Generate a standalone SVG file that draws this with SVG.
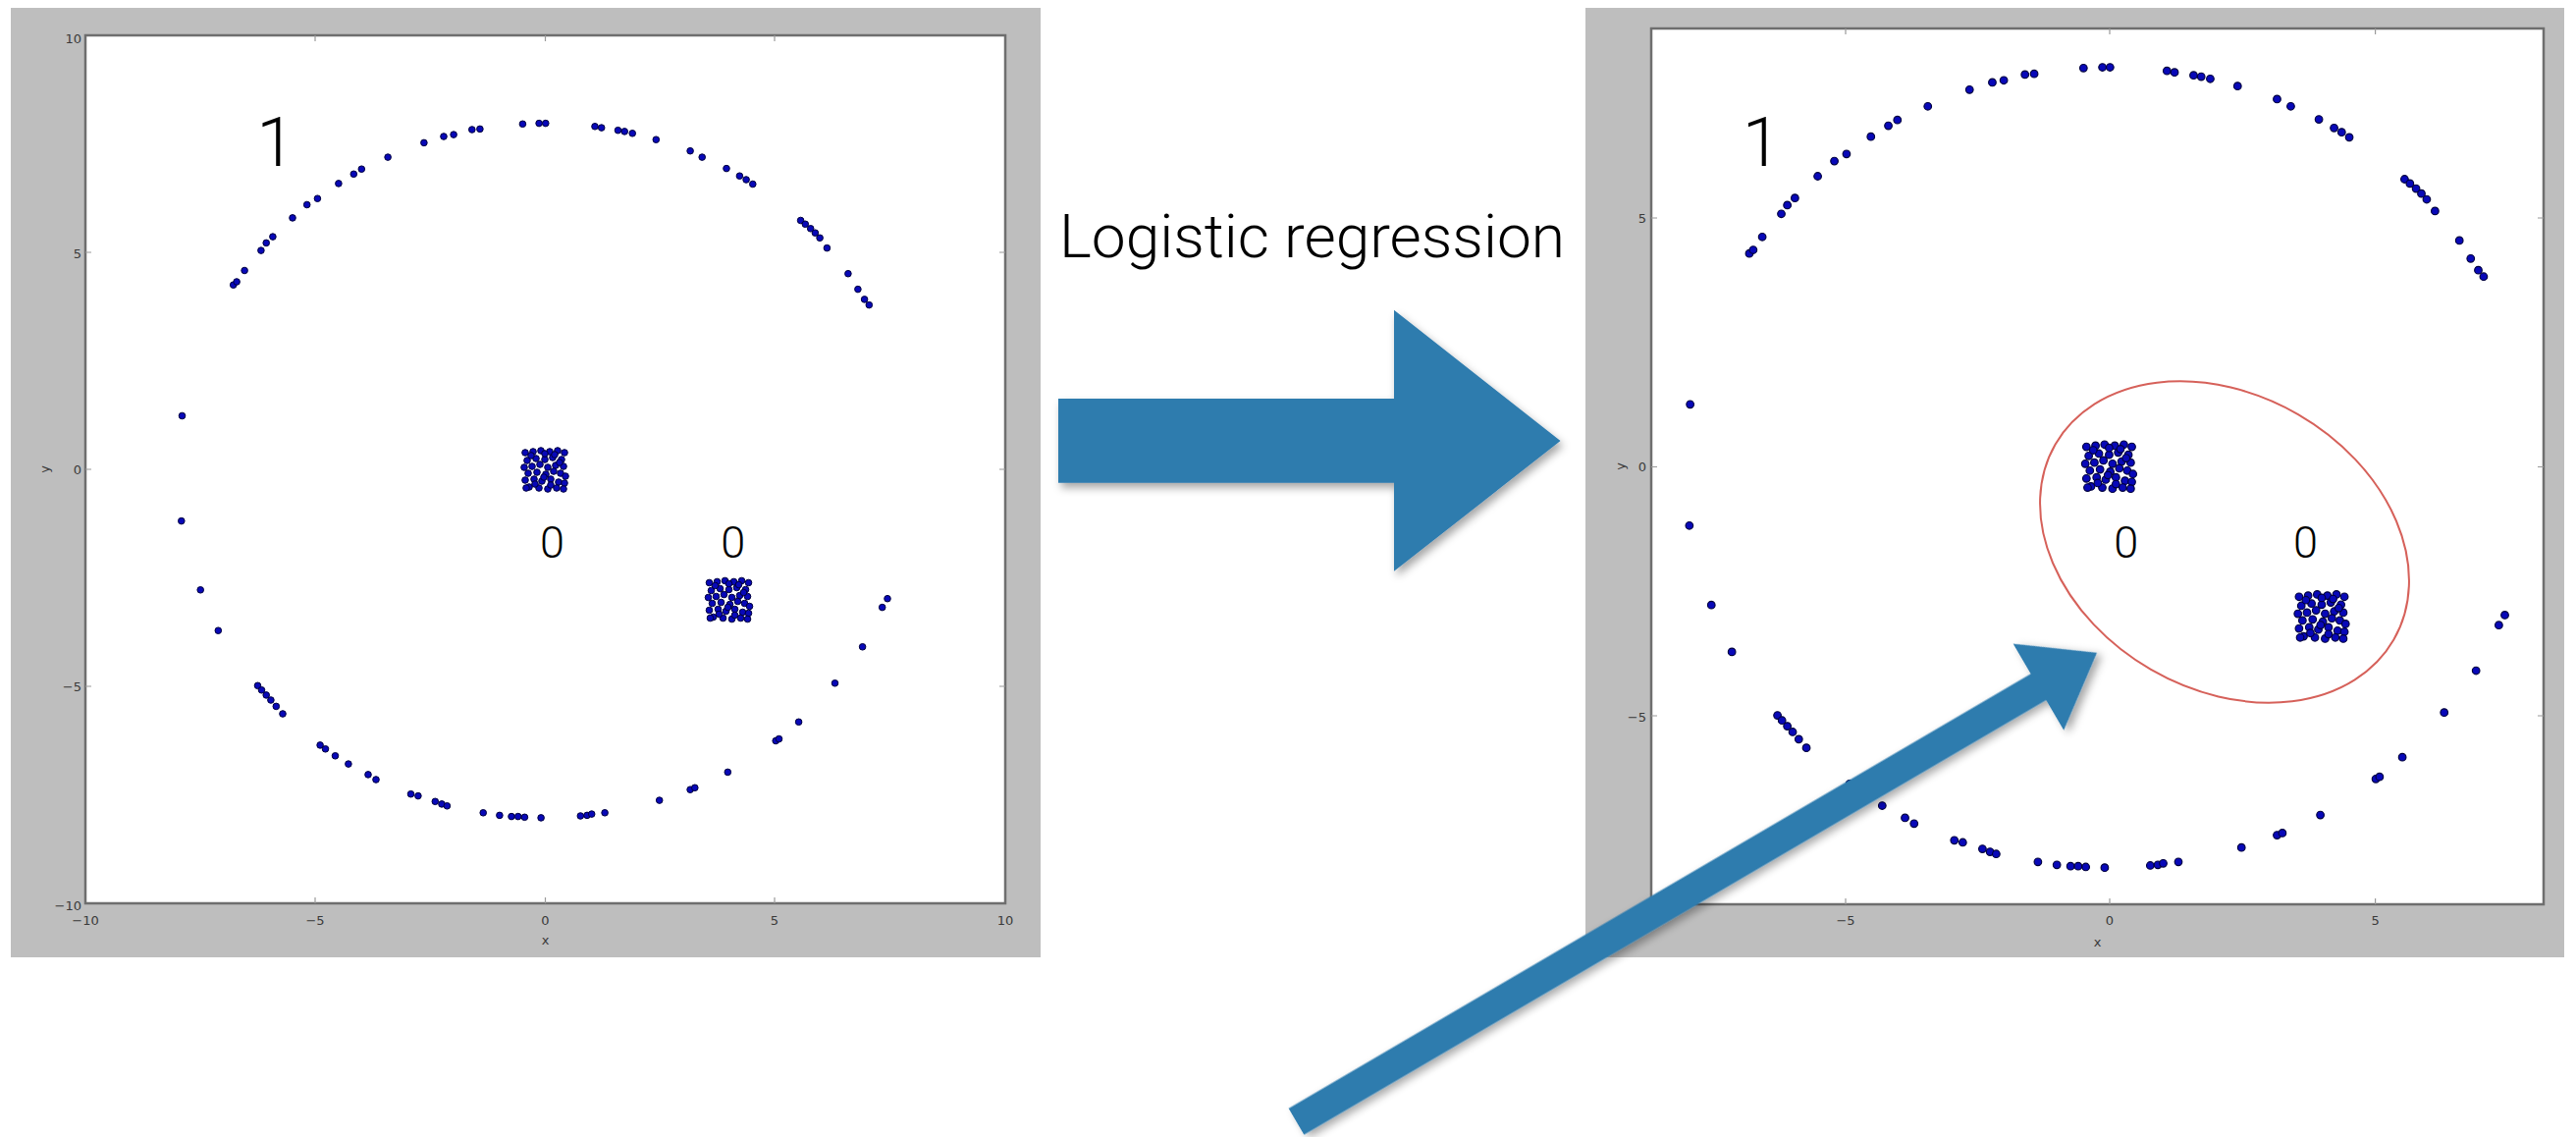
<svg xmlns="http://www.w3.org/2000/svg" xmlns:xlink="http://www.w3.org/1999/xlink" width="2624" height="1158" viewBox="0 0 2624 1158">
<style>
.bg{fill:#bebebe}
.plot{fill:#fff;stroke:#6e6e6e;stroke-width:2.5}
.tick{stroke:#9a9a9a;stroke-width:1.2}
.tl{font-family:"DejaVu Sans",sans-serif;font-size:13px;fill:#3a3a3a}
.big{font-family:Roboto,"Liberation Sans",sans-serif;font-weight:300;fill:#000}
.d{fill:#0808b8;stroke:#00003c;stroke-width:1}
.arrow{fill:#2e7bae}
</style>
<defs>
<filter id="sh" x="-10%" y="-20%" width="130%" height="150%">
<feDropShadow dx="3" dy="5" stdDeviation="4" flood-color="#000" flood-opacity="0.35"/>
</filter>
<g id="c">
<circle class="d" cx="-20" cy="-18" r="3.3"/><circle class="d" cx="-12" cy="-19" r="3.3"/><circle class="d" cx="-4" cy="-20" r="3.3"/><circle class="d" cx="5" cy="-19" r="3.3"/><circle class="d" cx="13" cy="-20" r="3.3"/><circle class="d" cx="20" cy="-18" r="3.3"/>
<circle class="d" cx="-18" cy="-10" r="3.3"/><circle class="d" cx="-9" cy="-12" r="3.3"/><circle class="d" cx="0" cy="-11" r="3.3"/><circle class="d" cx="8" cy="-13" r="3.3"/><circle class="d" cx="17" cy="-11" r="3.3"/>
<circle class="d" cx="-21" cy="-3" r="3.3"/><circle class="d" cx="-13" cy="-4" r="3.3"/><circle class="d" cx="-5" cy="-6" r="3.3"/><circle class="d" cx="3" cy="-3" r="3.3"/><circle class="d" cx="11" cy="-5" r="3.3"/><circle class="d" cx="19" cy="-4" r="3.3"/>
<circle class="d" cx="-17" cy="3" r="3.3"/><circle class="d" cx="-8" cy="2" r="3.3"/><circle class="d" cx="1" cy="4" r="3.3"/><circle class="d" cx="9" cy="1" r="3.3"/><circle class="d" cx="16" cy="3" r="3.3"/><circle class="d" cx="21" cy="6" r="3.3"/>
<circle class="d" cx="-20" cy="10" r="3.3"/><circle class="d" cx="-11" cy="9" r="3.3"/><circle class="d" cx="-3" cy="11" r="3.3"/><circle class="d" cx="6" cy="9" r="3.3"/><circle class="d" cx="14" cy="12" r="3.3"/><circle class="d" cx="20" cy="13" r="3.3"/>
<circle class="d" cx="-16" cy="17" r="3.3"/><circle class="d" cx="-6" cy="18" r="3.3"/><circle class="d" cx="3" cy="19" r="3.3"/><circle class="d" cx="12" cy="18" r="3.3"/><circle class="d" cx="19" cy="19" r="3.3"/>
<circle class="d" cx="-14" cy="-15" r="3.3"/><circle class="d" cx="10" cy="-16" r="3.3"/><circle class="d" cx="-1" cy="7" r="3.3"/><circle class="d" cx="-10" cy="14" r="3.3"/><circle class="d" cx="15" cy="-8" r="3.3"/><circle class="d" cx="6" cy="15" r="3.3"/><circle class="d" cx="-19" cy="18" r="3.3"/><circle class="d" cx="0" cy="-17" r="3.3"/>
</g>
<g id="dots">
<circle class="d" cx="237.7" cy="290.2" r="3.3"/><circle class="d" cx="241.1" cy="287" r="3.3"/><circle class="d" cx="249.1" cy="275.5" r="3.3"/><circle class="d" cx="265.9" cy="255.1" r="3.3"/><circle class="d" cx="271.2" cy="247.4" r="3.3"/><circle class="d" cx="277.9" cy="241.1" r="3.3"/><circle class="d" cx="298" cy="221.9" r="3.3"/><circle class="d" cx="312.7" cy="208.5" r="3.3"/><circle class="d" cx="323.4" cy="202.2" r="3.3"/><circle class="d" cx="344.9" cy="186.9" r="3.3"/><circle class="d" cx="360.3" cy="177.3" r="3.3"/><circle class="d" cx="368.3" cy="172.2" r="3.3"/><circle class="d" cx="395.1" cy="160.1" r="3.3"/><circle class="d" cx="431.9" cy="145.4" r="3.3"/><circle class="d" cx="452" cy="139" r="3.3"/><circle class="d" cx="462.1" cy="137.1" r="3.3"/><circle class="d" cx="480.8" cy="132" r="3.3"/><circle class="d" cx="488.9" cy="131.4" r="3.3"/><circle class="d" cx="532.4" cy="126.3" r="3.3"/><circle class="d" cx="549.1" cy="125.6" r="3.3"/><circle class="d" cx="555.8" cy="125.6" r="3.3"/><circle class="d" cx="606" cy="128.8" r="3.3"/><circle class="d" cx="612.7" cy="130.1" r="3.3"/><circle class="d" cx="629.5" cy="132.7" r="3.3"/><circle class="d" cx="636.2" cy="133.9" r="3.3"/><circle class="d" cx="644.2" cy="135.8" r="3.3"/><circle class="d" cx="668.3" cy="142.2" r="3.3"/><circle class="d" cx="703.1" cy="153.7" r="3.3"/><circle class="d" cx="715.2" cy="160.1" r="3.3"/><circle class="d" cx="740" cy="171.6" r="3.3"/><circle class="d" cx="753.4" cy="179.2" r="3.3"/><circle class="d" cx="760.1" cy="183" r="3.3"/><circle class="d" cx="766.8" cy="187.5" r="3.3"/><circle class="d" cx="815.6" cy="224.5" r="3.3"/><circle class="d" cx="820.3" cy="228.3" r="3.3"/><circle class="d" cx="825.7" cy="232.8" r="3.3"/><circle class="d" cx="830.4" cy="237.2" r="3.3"/><circle class="d" cx="835.1" cy="242.3" r="3.3"/><circle class="d" cx="842.4" cy="252.6" r="3.3"/><circle class="d" cx="863.9" cy="278.7" r="3.3"/><circle class="d" cx="873.9" cy="294.6" r="3.3"/><circle class="d" cx="880.6" cy="304.9" r="3.3"/><circle class="d" cx="885.3" cy="310.6" r="3.3"/>
<circle class="d" cx="185.5" cy="423.5" r="3.3"/><circle class="d" cx="184.8" cy="530.6" r="3.3"/><circle class="d" cx="204.2" cy="600.8" r="3.3"/><circle class="d" cx="222.3" cy="642.2" r="3.3"/>
<circle class="d" cx="262.5" cy="698.3" r="3.3"/><circle class="d" cx="266.5" cy="702.8" r="3.3"/><circle class="d" cx="271.2" cy="707.9" r="3.3"/><circle class="d" cx="275.9" cy="713" r="3.3"/><circle class="d" cx="281.3" cy="719.4" r="3.3"/><circle class="d" cx="288" cy="727" r="3.3"/><circle class="d" cx="326.1" cy="758.9" r="3.3"/><circle class="d" cx="331.5" cy="762.8" r="3.3"/><circle class="d" cx="341.5" cy="769.8" r="3.3"/><circle class="d" cx="354.9" cy="778.1" r="3.3"/><circle class="d" cx="375" cy="788.9" r="3.3"/><circle class="d" cx="383" cy="794" r="3.3"/><circle class="d" cx="418.5" cy="808.7" r="3.3"/><circle class="d" cx="425.9" cy="810.6" r="3.3"/><circle class="d" cx="443.3" cy="816.3" r="3.3"/><circle class="d" cx="450" cy="818.9" r="3.3"/><circle class="d" cx="455.4" cy="820.8" r="3.3"/><circle class="d" cx="492.2" cy="827.8" r="3.3"/><circle class="d" cx="508.9" cy="830.4" r="3.3"/><circle class="d" cx="521" cy="831.6" r="3.3"/><circle class="d" cx="527.7" cy="831.6" r="3.3"/><circle class="d" cx="534.4" cy="832.3" r="3.3"/><circle class="d" cx="551.1" cy="832.9" r="3.3"/><circle class="d" cx="591.3" cy="831" r="3.3"/><circle class="d" cx="598" cy="830.4" r="3.3"/><circle class="d" cx="602.7" cy="829.1" r="3.3"/><circle class="d" cx="616.1" cy="827.8" r="3.3"/><circle class="d" cx="671.7" cy="815.1" r="3.3"/><circle class="d" cx="703.1" cy="804.2" r="3.3"/><circle class="d" cx="707.8" cy="802.3" r="3.3"/><circle class="d" cx="741.3" cy="786.4" r="3.3"/><circle class="d" cx="790.2" cy="754.5" r="3.3"/><circle class="d" cx="793.5" cy="752.6" r="3.3"/><circle class="d" cx="813.6" cy="735.3" r="3.3"/><circle class="d" cx="850.5" cy="695.8" r="3.3"/><circle class="d" cx="878.6" cy="658.8" r="3.3"/><circle class="d" cx="898.7" cy="618.6" r="3.3"/><circle class="d" cx="904" cy="609.7" r="3.3"/>
<use xlink:href="#c" href="#c" transform="translate(555,479)"/>
<use xlink:href="#c" href="#c" transform="translate(742.5,611.5)"/>
</g>
</defs>

<g id="panel-left">
<rect class="bg" x="11" y="8" width="1049" height="967"/>
<rect class="plot" x="87" y="36" width="937" height="884"/>
<g class="tick">
<path d="M321,920v-6M555.5,920v-6M789,920v-6M321,36v6M555.5,36v6M789,36v6M87,257h6M87,478h6M87,699h6M1024,257h-6M1024,478h-6M1024,699h-6"/>
</g>
<g class="tl" text-anchor="end">
<text x="83" y="44">10</text><text x="83" y="263">5</text><text x="83" y="483">0</text><text x="83" y="704">−5</text><text x="83" y="927">−10</text>
</g>
<g class="tl" text-anchor="middle">
<text x="87" y="942">−10</text><text x="321" y="942">−5</text><text x="555.5" y="942">0</text><text x="789" y="942">5</text><text x="1024" y="942">10</text>
<text x="555.5" y="962">x</text>
<text x="50" y="478" transform="rotate(-90 50 478)">y</text>
</g>
<use xlink:href="#dots" href="#dots"/>
</g>

<g id="panel-right">
<rect class="bg" x="1615" y="8" width="997" height="967"/>
<rect class="plot" x="1682" y="29" width="909" height="892"/>
<g class="tick">
<path d="M1880,921v-6M2149,921v-6M2419.6,921v-6M1880,29v6M2149,29v6M2419.6,29v6M1682,222h6M1682,475.5h6M1682,729h6M2591,222h-6M2591,475.5h-6M2591,729h-6"/>
</g>
<g class="tl" text-anchor="end">
<text x="1677" y="227">5</text><text x="1677" y="480">0</text><text x="1677" y="735">−5</text>
</g>
<g class="tl" text-anchor="middle">
<text x="1880" y="942">−5</text><text x="2149" y="942">0</text><text x="2419.6" y="942">5</text>
<text x="2136.5" y="964">x</text>
<text x="1655" y="475" transform="rotate(-90 1655 475)">y</text>
</g>
<use xlink:href="#dots" href="#dots" transform="translate(2149,475) scale(1.155,1.1525) translate(-555.5,-478.3)"/>
<ellipse id="boundary" cx="2266" cy="552" rx="199" ry="150" transform="rotate(30 2266 552)" fill="none" stroke="#d6615a" stroke-width="2"/>
</g>

<g id="labels">
<text class="big" x="281" y="169" font-size="71" text-anchor="middle">1</text>
<text class="big" x="562.5" y="568" font-size="45" text-anchor="middle">0</text>
<text class="big" x="746.7" y="568" font-size="45" text-anchor="middle">0</text>
<text class="big" x="1794.4" y="169" font-size="71" text-anchor="middle">1</text>
<text class="big" x="2165.7" y="568" font-size="45" text-anchor="middle">0</text>
<text class="big" x="2348.4" y="568" font-size="45" text-anchor="middle">0</text>
<text class="big" x="1079" y="262" font-size="61" textLength="515" lengthAdjust="spacingAndGlyphs">Logistic regression</text>
</g>

<g id="connectors">
<path id="arrow-main" class="arrow" filter="url(#sh)" d="M1078,406H1420V315.7L1589.5,449L1420,581.7V491.7H1078Z"/>
<path id="arrow-pointer" class="arrow" filter="url(#sh)" transform="translate(1320.5,1142.3) rotate(-30.35)" d="M0,-15.5H876V-51L945,0L876,51V15.5H0Z"/>
</g>
</svg>
